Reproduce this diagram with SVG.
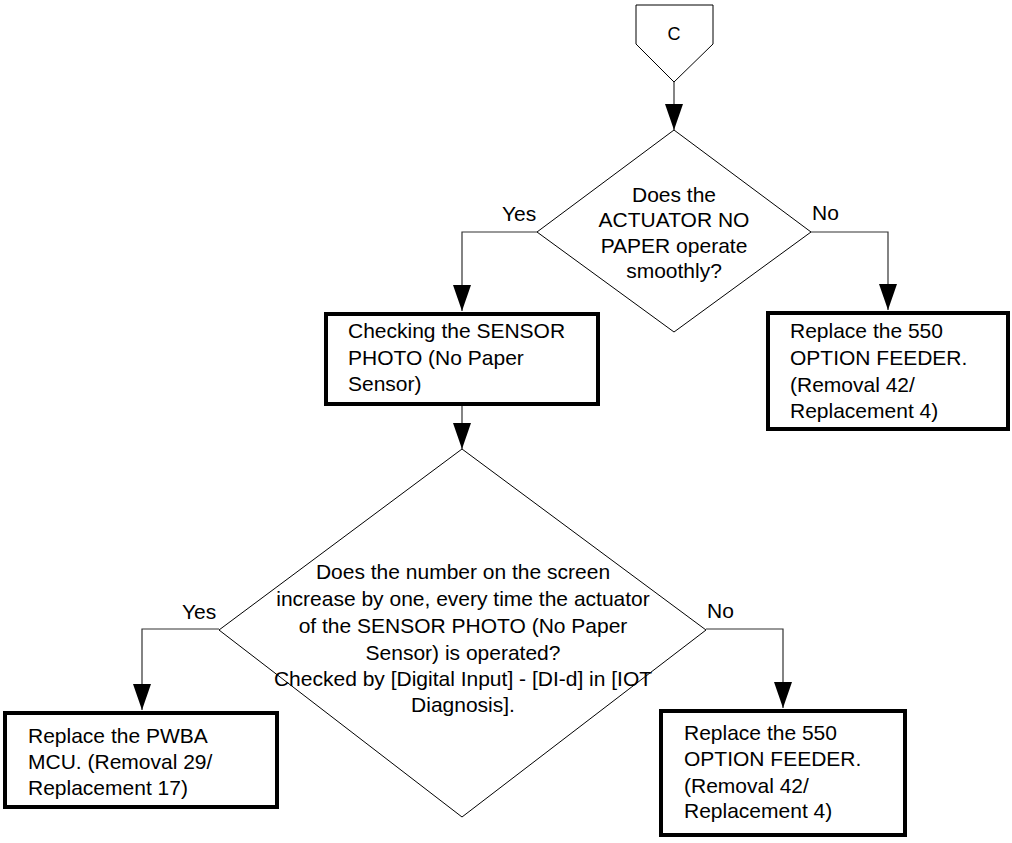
<svg xmlns="http://www.w3.org/2000/svg" width="1012" height="843" viewBox="0 0 1012 843">
<style>
text{font-family:"Liberation Sans",Arial,sans-serif;font-size:21px;fill:#000}
.c{text-anchor:middle}
.dia{fill:#fff;stroke:#000;stroke-width:1}
.box{fill:#fff;stroke:#000;stroke-width:4}
.con{fill:none;stroke:#333;stroke-width:1.2}
</style>
<defs>
<marker id="ah" markerUnits="userSpaceOnUse" markerWidth="26" markerHeight="18" refX="26" refY="9" orient="auto" viewBox="0 0 26 18">
<path d="M0,0 L26,9 L0,18 Z" fill="#000"/>
</marker>
</defs>
<g id="connectors">
<path class="con" d="M674,82 V130" marker-end="url(#ah)"/>
<path class="con" d="M537,232 H462 V311" marker-end="url(#ah)"/>
<path class="con" d="M811,232 H888 V310" marker-end="url(#ah)"/>
<path class="con" d="M462,406 V449" marker-end="url(#ah)"/>
<path class="con" d="M219,629 H142 V710" marker-end="url(#ah)"/>
<path class="con" d="M706,629 H783 V708" marker-end="url(#ah)"/>
<text x="502" y="221">Yes</text>
<text x="812" y="220">No</text>
<text x="182" y="619">Yes</text>
<text x="707" y="618">No</text>
</g>
<g id="start-c">
<polygon class="dia" points="636,5 713,5 713,44 674,82 636,44"/>
<text class="c" x="674" y="40" style="font-size:18px">C</text>
</g>
<g id="decision-1">
<polygon class="dia" points="674,130 811,232 674,332 537,232"/>
<text class="c" x="674" y="202">Does the</text>
<text class="c" x="674" y="227">ACTUATOR NO</text>
<text class="c" x="674" y="253">PAPER operate</text>
<text class="c" x="674" y="278">smoothly?</text>
</g>
<g id="check-sensor">
<rect class="box" x="326" y="314" width="272" height="90"/>
<text x="348" y="338">Checking the SENSOR</text>
<text x="348" y="365">PHOTO (No Paper</text>
<text x="348" y="391">Sensor)</text>
</g>
<g id="replace-feeder-1">
<rect class="box" x="768" y="313" width="240" height="116"/>
<text x="790" y="338">Replace the 550</text>
<text x="790" y="365">OPTION FEEDER.</text>
<text x="790" y="392">(Removal 42/</text>
<text x="790" y="418">Replacement 4)</text>
</g>
<g id="decision-2">
<polygon class="dia" points="462,449 706,630 462,817 219,630"/>
<text class="c" x="463" y="579">Does the number on the screen</text>
<text class="c" x="463" y="606">increase by one, every time the actuator</text>
<text class="c" x="463" y="633">of the SENSOR PHOTO (No Paper</text>
<text class="c" x="463" y="660">Sensor) is operated?</text>
<text class="c" x="463" y="686">Checked by [Digital Input] - [DI-d] in [IOT</text>
<text class="c" x="463" y="712">Diagnosis].</text>
</g>
<g id="replace-pwba">
<rect class="box" x="5" y="713" width="272" height="94"/>
<text x="28" y="743">Replace the PWBA</text>
<text x="28" y="769">MCU. (Removal 29/</text>
<text x="28" y="795">Replacement 17)</text>
</g>
<g id="replace-feeder-2">
<rect class="box" x="661" y="711" width="244" height="124"/>
<text x="684" y="740">Replace the 550</text>
<text x="684" y="766">OPTION FEEDER.</text>
<text x="684" y="793">(Removal 42/</text>
<text x="684" y="818">Replacement 4)</text>
</g>
</svg>
